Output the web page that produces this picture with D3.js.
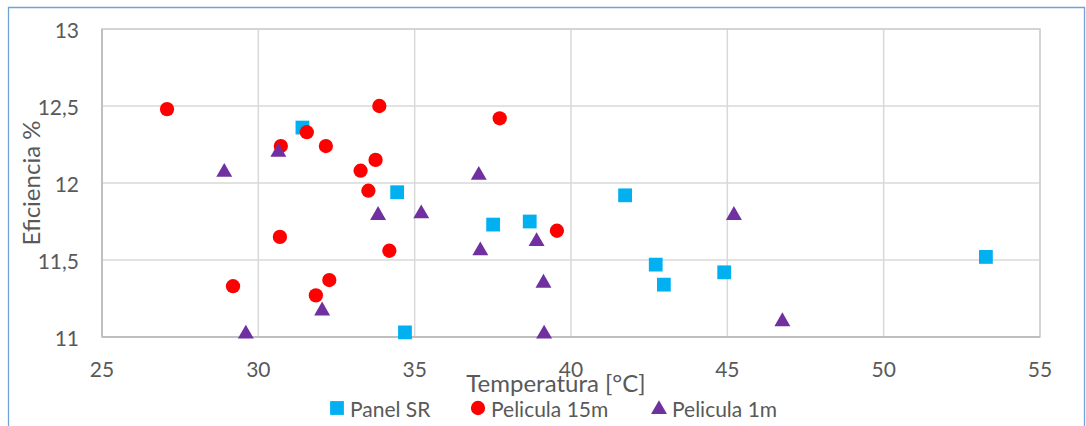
<!DOCTYPE html>
<html>
<head>
<meta charset="utf-8">
<script src="https://cdn.jsdelivr.net/npm/d3@7"></script>
<style>
  body { margin: 0; background: #fff; }
  svg { display: block; font-family: Lato, "Open Sans", sans-serif; }
</style>
</head>
<body>
<div id="chart"></div>
<script>
// ----------------------------------
// DATA
// ----------------------------------
const panelSR_temp = [31.41, 34.44, 34.69, 37.51, 38.68, 41.73, 42.71, 42.97, 44.90, 53.27];
const panelSR_eff  = [12.36, 11.94, 11.03, 11.73, 11.75, 11.92, 11.47, 11.34, 11.42, 11.52];

const pel15_temp = [27.08, 29.19, 30.72, 30.69, 31.55, 32.16, 31.84, 32.27, 33.27, 33.75, 33.52, 33.87, 34.19, 37.72, 39.55];
const pel15_eff  = [12.48, 11.33, 12.24, 11.65, 12.33, 12.24, 11.27, 11.37, 12.08, 12.15, 11.95, 12.50, 11.56, 12.42, 11.69];

const pel1_temp = [28.91, 30.64, 29.60, 32.04, 33.83, 35.21, 37.05, 37.10, 38.90, 39.12, 39.14, 45.21, 46.76];
const pel1_eff  = [12.08, 12.21, 11.03, 11.18, 11.80, 11.81, 12.06, 11.57, 11.63, 11.36, 11.03, 11.80, 11.11];

const xTicks = [25, 30, 35, 40, 45, 50, 55];
const yTicks = [11, 11.5, 12, 12.5, 13];

const seriesNames = ['Panel SR', 'Pelicula 15m', 'Pelicula 1m'];

const series = [
  {name: seriesNames[0], x: panelSR_temp, y: panelSR_eff, shape: d3.symbolSquare, color: '#00B0F0', size: 190},
  {name: seriesNames[1], x: pel15_temp, y: pel15_eff, shape: d3.symbolCircle, color: '#FF0000', size: 160},
  {name: seriesNames[2], x: pel1_temp, y: pel1_eff, shape: d3.symbolTriangle, color: '#7030A0', size: 110}
];

// ----------------------------------
// LAYOUT
// ----------------------------------
const width = 1086, height = 426;
const margin = {top: 29, right: 46, bottom: 89, left: 102};
const innerWidth = width - margin.left - margin.right;
const innerHeight = height - margin.top - margin.bottom;

const fmt = d => String(d).replace('.', ',');

const xScale = d3.scaleLinear().domain([25, 55]).range([0, innerWidth]);
const yScale = d3.scaleLinear().domain([11, 13]).range([innerHeight, 0]);

const svg = d3.select('#chart').append('svg')
  .attr('width', width)
  .attr('height', height);

// outer chart frame (bottom edge runs past the picture, as in the original)
svg.append('path')
  .attr('d', `M8.5,${height} V7.5 H1084.5 V${height}`)
  .attr('fill', 'none')
  .attr('stroke', '#6FA3D8')
  .attr('stroke-width', 1.3);

const g = svg.append('g')
  .attr('transform', `translate(${margin.left}, ${margin.top})`);

// gridlines
g.append('g').selectAll('line')
  .data(yTicks).join('line')
  .attr('x1', 0).attr('x2', innerWidth)
  .attr('y1', d => yScale(d)).attr('y2', d => yScale(d))
  .attr('stroke', '#D9D9D9').attr('stroke-width', 1.5);

g.append('g').selectAll('line')
  .data(xTicks).join('line')
  .attr('y1', 0).attr('y2', innerHeight)
  .attr('x1', d => xScale(d)).attr('x2', d => xScale(d))
  .attr('stroke', '#D9D9D9').attr('stroke-width', 1.5);

// plot border
g.append('rect')
  .attr('width', innerWidth).attr('height', innerHeight)
  .attr('fill', 'none')
  .attr('stroke', '#D0D0D0').attr('stroke-width', 1.5);

// left and bottom axis lines a bit darker
g.append('line').attr('x1', 0).attr('x2', 0).attr('y1', 0).attr('y2', innerHeight)
  .attr('stroke', '#BFBFBF').attr('stroke-width', 2);
g.append('line').attr('x1', 0).attr('x2', innerWidth).attr('y1', innerHeight).attr('y2', innerHeight)
  .attr('stroke', '#BFBFBF').attr('stroke-width', 2);

// tick labels
g.append('g').selectAll('text')
  .data(yTicks).join('text')
  .attr('x', -23).attr('y', d => yScale(d))
  .attr('text-anchor', 'end').attr('dominant-baseline', 'central')
  .attr('fill', '#595959').attr('font-size', 21)
  .text(fmt);

g.append('g').selectAll('text')
  .data(xTicks).join('text')
  .attr('x', d => xScale(d)).attr('y', innerHeight + 31)
  .attr('text-anchor', 'middle').attr('dominant-baseline', 'central')
  .attr('fill', '#595959').attr('font-size', 21)
  .text(d => d);

// ----------------------------------
// POINTS
// ----------------------------------
series.forEach(s => {
  const sym = d3.symbol().type(s.shape).size(s.size);
  const dy = s.shape === d3.symbolTriangle ? 1.5 : 0;
  g.append('g').selectAll('path')
    .data(s.x.map((xv, i) => ({x: xv, y: s.y[i]})))
    .join('path')
    .attr('d', sym)
    .attr('transform', d => `translate(${xScale(d.x)}, ${yScale(d.y) + dy})`)
    .attr('fill', s.color);
});

// ----------------------------------
// TITLES
// ----------------------------------
svg.append('text')
  .attr('x', 556).attr('y', 382)
  .attr('text-anchor', 'middle').attr('dominant-baseline', 'central')
  .attr('fill', '#595959')
  .attr('font-size', 24)
  .text('Temperatura [°C]');

svg.append('text')
  .attr('transform', `translate(30, ${margin.top + innerHeight / 2}) rotate(-90)`)
  .attr('text-anchor', 'middle').attr('dominant-baseline', 'central')
  .attr('fill', '#595959')
  .attr('font-size', 24)
  .text('Eficiencia %');

// ----------------------------------
// LEGEND
// ----------------------------------
const legendX = [337, 478, 659];
const legend = svg.append('g').attr('transform', 'translate(0, 408)');
series.forEach((s, i) => {
  legend.append('path')
    .attr('d', d3.symbol().type(s.shape).size(s.size))
    .attr('transform', `translate(${legendX[i]}, ${s.shape === d3.symbolTriangle ? 1.5 : 0})`)
    .attr('fill', s.color);
  legend.append('text')
    .attr('x', legendX[i] + 13).attr('y', 0)
    .attr('dominant-baseline', 'central')
    .attr('fill', '#595959')
    .attr('font-size', 21)
    .text(s.name);
});
</script>
</body>
</html>
